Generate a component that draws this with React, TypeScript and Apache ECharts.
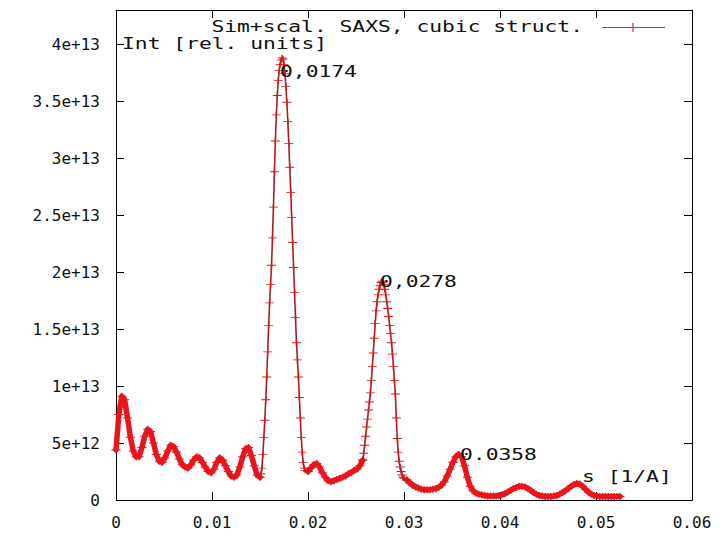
import React, { useEffect, useRef } from "react";
import * as echarts from "echarts";

const xTickLabels = ["0", "0.01", "0.02", "0.03", "0.04", "0.05", "0.06"];
const yTickLabels = ["0", "5e+12", "1e+13", "1.5e+13", "2e+13", "2.5e+13", "3e+13", "3.5e+13", "4e+13"];
const seriesName = "Sim+scal. SAXS, cubic struct.";
const yAxisTitle = "Int [rel. units]";
const xAxisTitle = "s [1/A]";
const peakLabels = ["0,0174", "0,0278", "0.0358"];

// intensity in units of 1e12, s in 1/A
const lowOscillations: [number, number][] = [
  [0, 4.4], [0.0003, 7.5], [0.0006, 9.1], [0.0009, 8.8], [0.0012, 7.2], [0.0015, 5.5],
  [0.0018, 4.3], [0.0021, 3.8], [0.0024, 3.8], [0.0027, 4.6], [0.003, 5.6], [0.0033, 6.2],
  [0.0036, 6.0], [0.0039, 5.0], [0.0042, 4.0], [0.0045, 3.4], [0.0048, 3.3], [0.0051, 3.7],
  [0.0054, 4.3], [0.0057, 4.8], [0.006, 4.7], [0.0063, 4.2], [0.0066, 3.6], [0.0069, 3.1],
  [0.0072, 2.9], [0.0075, 2.8], [0.0078, 3.1], [0.0081, 3.5], [0.0084, 3.8], [0.0087, 3.7],
  [0.009, 3.3], [0.0093, 2.9], [0.0096, 2.5], [0.0099, 2.4], [0.0102, 2.7], [0.0105, 3.3],
  [0.0108, 3.7], [0.0111, 3.5], [0.0114, 3.0], [0.0117, 2.5], [0.012, 2.1], [0.0123, 2.0],
  [0.0126, 2.2], [0.0129, 2.9], [0.0132, 3.8], [0.0135, 4.5], [0.0138, 4.6], [0.0141, 3.9],
  [0.0144, 3.0], [0.0147, 2.2], [0.015, 2.0],
];

const mainPeak: [number, number][] = [
  [0.0151, 2.3], [0.0152, 2.8], [0.0153, 4.0], [0.0154, 5.5], [0.0155, 7.0], [0.0156, 8.8],
  [0.0157, 10.8], [0.0158, 13.0], [0.0159, 15.3], [0.016, 17.3], [0.0161, 18.9], [0.0162, 20.6],
  [0.0163, 23.0], [0.0164, 25.7], [0.0165, 28.8], [0.0166, 31.5], [0.0167, 33.8], [0.0168, 35.5],
  [0.0169, 36.8], [0.017, 37.7], [0.0171, 38.2], [0.0172, 38.6], [0.0173, 38.8], [0.0174, 38.7],
  [0.0175, 38.2], [0.0176, 37.4], [0.0177, 36.3], [0.0178, 34.9], [0.0179, 33.2], [0.018, 31.3],
  [0.0181, 29.2], [0.0182, 27.0], [0.0183, 24.8], [0.0184, 22.6], [0.0185, 20.4], [0.0186, 18.2],
  [0.0187, 16.0], [0.0188, 13.8], [0.0189, 12.3], [0.019, 10.8], [0.0191, 9.0], [0.0192, 7.2],
  [0.0193, 5.5], [0.0194, 4.2], [0.0195, 3.3], [0.0196, 2.8], [0.0197, 2.6],
];

const valley: [number, number][] = [
  [0.02, 2.5], [0.0203, 2.8], [0.0206, 3.1], [0.0209, 3.2], [0.0212, 2.9], [0.0215, 2.4],
  [0.0218, 2.0], [0.0221, 1.7], [0.0224, 1.6], [0.0227, 1.7], [0.023, 1.8], [0.0233, 1.9],
  [0.0236, 2.0], [0.0239, 2.1], [0.0242, 2.3], [0.0245, 2.4], [0.0248, 2.6], [0.0251, 2.7],
  [0.0254, 3.0], [0.0257, 3.5],
];

const secondPeak: [number, number][] = [
  [0.0258, 4.1], [0.0259, 4.8], [0.026, 5.6], [0.0261, 6.4], [0.0262, 7.1], [0.0263, 7.9],
  [0.0264, 8.6], [0.0265, 9.4], [0.0266, 10.5], [0.0267, 11.7], [0.0268, 12.9], [0.0269, 14.2],
  [0.027, 15.5], [0.0271, 16.6], [0.0272, 17.4], [0.0273, 18.0], [0.0274, 18.5], [0.0275, 18.8],
  [0.0276, 19.1], [0.0277, 19.2], [0.0278, 19.1], [0.0279, 18.9], [0.028, 18.5], [0.0281, 18.0],
  [0.0282, 17.4], [0.0283, 16.8], [0.0284, 16.1], [0.0285, 15.3], [0.0286, 14.6], [0.0287, 13.8],
  [0.0288, 12.8], [0.0289, 11.7], [0.029, 10.5], [0.0291, 9.3], [0.0292, 7.2], [0.0293, 5.4],
  [0.0294, 4.2], [0.0295, 3.4], [0.0296, 2.9], [0.0297, 2.5], [0.0298, 2.2], [0.0299, 2.0],
  [0.03, 1.9],
];

const tail: [number, number][] = [
  [0.0303, 1.75], [0.0306, 1.5], [0.0309, 1.3], [0.0312, 1.15], [0.0315, 1.05], [0.0318, 0.95],
  [0.0321, 0.9], [0.0324, 0.9], [0.0327, 0.9], [0.033, 0.95], [0.0333, 1.0], [0.0336, 1.1],
  [0.0339, 1.3], [0.0342, 1.6], [0.0345, 2.1], [0.0348, 2.7], [0.0351, 3.3], [0.0354, 3.8],
  [0.0357, 4.0], [0.036, 3.8], [0.0363, 3.0], [0.0366, 2.0], [0.0369, 1.2], [0.0372, 0.8],
  [0.0375, 0.6], [0.0378, 0.5], [0.0381, 0.45], [0.0384, 0.4], [0.0387, 0.35], [0.039, 0.35],
  [0.0393, 0.35], [0.0396, 0.35], [0.0399, 0.4], [0.0402, 0.45], [0.0405, 0.55], [0.0408, 0.7],
  [0.0411, 0.85], [0.0414, 1.0], [0.0417, 1.1], [0.042, 1.2], [0.0423, 1.2], [0.0426, 1.15],
  [0.0429, 1.0], [0.0432, 0.85], [0.0435, 0.65], [0.0438, 0.5], [0.0441, 0.4], [0.0444, 0.35],
  [0.0447, 0.3], [0.045, 0.3], [0.0453, 0.3], [0.0456, 0.35], [0.0459, 0.4], [0.0462, 0.5],
  [0.0465, 0.65], [0.0468, 0.8], [0.0471, 1.0], [0.0474, 1.2], [0.0477, 1.35], [0.048, 1.45],
  [0.0483, 1.4], [0.0486, 1.2], [0.0489, 0.95], [0.0492, 0.7], [0.0495, 0.5], [0.0498, 0.4],
  [0.0501, 0.35], [0.0504, 0.3], [0.0507, 0.3], [0.051, 0.3], [0.0513, 0.3], [0.0516, 0.3],
  [0.0519, 0.3], [0.0522, 0.3], [0.0525, 0.3],
];

const FONT = '15px "DejaVu Sans Mono"';
const AXIS_FONT = "DejaVu Sans Mono";
const RED = "#e8161c";
const PEAK_LINE = "#b01c1c";
const PEAK_MARK = "#d01a1a";
const PLUS = "path://M0,3.4H3.4V0H4.6V3.4H8V4.6H4.6V8H3.4V4.6H0Z";

function txt(text: string, x: number, y: number, align: string) {
  return {
    type: "text",
    x,
    y,
    scaleX: 1.42,
    z: 10,
    style: {
      text,
      x: 0,
      y: 0,
      font: FONT,
      fill: "#111",
      textAlign: align,
      align,
      textVerticalAlign: "middle",
      verticalAlign: "middle",
    },
  };
}

function bandSeries(data: [number, number][]) {
  return {
    name: seriesName,
    type: "line",
    xAxisIndex: 0,
    yAxisIndex: 0,
    data,
    symbol: PLUS,
    symbolSize: [9, 7],
    showAllSymbol: true,
    lineStyle: { color: RED, width: 5.5, cap: "round", join: "round" },
    itemStyle: { color: RED },
    emphasis: { disabled: true },
    z: 2,
  };
}

function peakSeries(data: [number, number][]) {
  return {
    name: seriesName,
    type: "line",
    xAxisIndex: 0,
    yAxisIndex: 0,
    data,
    symbol: PLUS,
    symbolSize: [9, 6],
    showAllSymbol: true,
    lineStyle: { color: PEAK_LINE, width: 1.6 },
    itemStyle: { color: PEAK_MARK },
    emphasis: { disabled: true },
    z: 3,
  };
}

export default function App() {
  const ref = useRef<HTMLDivElement>(null);
  useEffect(() => {
    if (!ref.current) return;
    const chart = echarts.init(ref.current, undefined, { renderer: "svg" });
    const axisCommon = {
      type: "value",
      axisLine: { show: true, onZero: false, lineStyle: { color: "#000", width: 1 } },
      axisTick: { show: true, inside: true, length: 8, lineStyle: { color: "#000", width: 1 } },
      splitLine: { show: false },
    };
    const xLabel = (v: number) => {
      const i = Math.round(v / 0.01);
      return Math.abs(v - i * 0.01) < 1e-9 ? xTickLabels[i] ?? "" : "";
    };
    const yLabel = (v: number) => {
      const i = Math.round(v / 5);
      return Math.abs(v - i * 5) < 1e-9 ? yTickLabels[i] ?? "" : "";
    };
    const last = (a: [number, number][]) => a[a.length - 1];
    chart.setOption({
      animation: false,
      backgroundColor: "#fff",
      grid: { left: 116, right: 36, top: 10, bottom: 35, containLabel: false },
      xAxis: [
        {
          ...axisCommon,
          position: "bottom",
          min: 0,
          max: 0.06,
          interval: 0.01,
          axisLabel: { show: true, formatter: xLabel, margin: 14, color: "#111", fontFamily: AXIS_FONT, fontSize: 16 },
        },
        {
          ...axisCommon,
          position: "top",
          min: 0,
          max: 0.06,
          interval: 0.01,
          axisLabel: { show: false },
        },
      ],
      yAxis: [
        {
          ...axisCommon,
          position: "left",
          min: 0,
          max: 43,
          interval: 5,
          axisLabel: { show: true, formatter: yLabel, margin: 16, color: "#111", fontFamily: AXIS_FONT, fontSize: 16 },
        },
        {
          ...axisCommon,
          position: "right",
          min: 0,
          max: 43,
          interval: 5,
          axisLabel: { show: false },
        },
      ],
      series: [
        bandSeries(lowOscillations),
        peakSeries([last(lowOscillations), ...mainPeak, valley[0]]),
        bandSeries(valley),
        peakSeries([last(valley), ...secondPeak, tail[0]]),
        bandSeries(tail),
      ],
      graphic: [
        txt(seriesName, 583, 27, "right"),
        { type: "line", z: 10, shape: { x1: 602, y1: 27.5, x2: 665, y2: 27.5 }, style: { stroke: "#d42a3a", lineWidth: 1.2 } },
        { type: "line", z: 10, shape: { x1: 633, y1: 23, x2: 633, y2: 32 }, style: { stroke: "#d42a3a", lineWidth: 1.2 } },
        txt(yAxisTitle, 122, 44, "left"),
        txt(xAxisTitle, 582, 477, "left"),
        txt(peakLabels[0], 280, 72, "left"),
        txt(peakLabels[1], 380, 282, "left"),
        txt(peakLabels[2], 460, 455, "left"),
      ],
    });
    return () => chart.dispose();
  }, []);
  return (
    <div
      ref={ref}
      style={{ position: "fixed", left: 0, top: 0, width: 728, height: 535, background: "#fff" }}
    />
  );
}
